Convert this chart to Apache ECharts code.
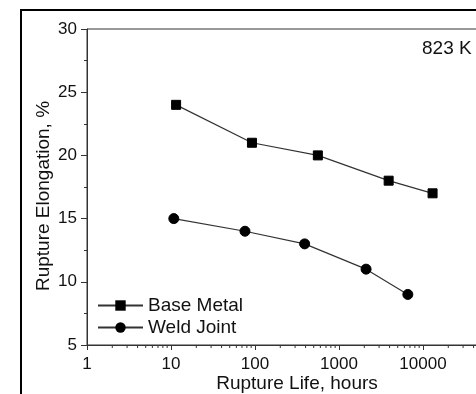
<!DOCTYPE html>
<html><head><meta charset="utf-8">
<script src="https://cdn.jsdelivr.net/npm/echarts@6/dist/echarts.min.js"></script>
<style>html,body{margin:0;padding:0;background:#fff}#c{width:476px;height:394px}</style>
</head><body><div id="c"></div>
<script>
const baseLife = [11.5, 92, 560, 3900, 13000];
const baseElong = [24, 21, 20, 18, 17];
const weldLife = [10.8, 76, 390, 2100, 6600];
const weldElong = [15, 14, 13, 11, 9];
const yTicks = [5, 10, 15, 20, 25, 30];
const xMinorMultipliers = [2, 3, 4, 5, 6, 7, 8, 9];
const xDecades = [1, 10, 100, 1000, 10000];

const FONT = 'Liberation Sans';
const minorTickVals = [];
xDecades.forEach(d => xMinorMultipliers.forEach(m => minorTickVals.push([m * d, 5])));

const chart = echarts.init(document.getElementById('c'), null, {renderer: 'canvas'});
chart.setOption({
  animation: false,
  backgroundColor: '#fff',
  textStyle: {fontFamily: FONT},
  graphic: [
    {type: 'rect', shape: {x: 21, y: 10, width: 600, height: 600}, style: {fill: 'none', stroke: '#000', lineWidth: 2}, z: -1},
    {type: 'text', left: 422, top: 39, style: {text: '823 K', font: '19px "Liberation Sans"', fill: '#111'}}
  ],
  grid: {left: 87, top: 29, right: -31, bottom: 49, show: true, borderColor: '#333', borderWidth: 1, outerBoundsMode: 'none'},
  legend: {
    orient: 'vertical', left: 92, top: 291, itemWidth: 45, itemHeight: 13, itemGap: 3,
    textStyle: {fontFamily: FONT, fontSize: 19, color: '#111'},
    data: ['Base Metal', 'Weld Joint']
  },
  xAxis: {
    type: 'log', logBase: 10, min: 1, max: 100000,
    name: 'Rupture Life, hours', nameLocation: 'middle', nameGap: 29, nameMoveOverlap: false,
    nameTextStyle: {fontFamily: FONT, fontSize: 19, color: '#111'},
    axisLine: {lineStyle: {color: '#333', width: 1}},
    axisTick: {show: true, inside: false, length: 5, lineStyle: {color: '#333'}},
    axisLabel: {fontFamily: FONT, fontSize: 17, color: '#111', margin: 11, formatter: v => String(v)},
    splitLine: {show: false}, minorTick: {show: false}
  },
  yAxis: {
    type: 'value', min: 5, max: 30, interval: 5,
    name: 'Rupture Elongation, %', nameLocation: 'middle', nameGap: 34, nameMoveOverlap: false,
    nameTextStyle: {fontFamily: FONT, fontSize: 19, color: '#111', padding: [0, 18, 0, 0]},
    axisLine: {show: true, lineStyle: {color: '#333', width: 1}},
    axisTick: {show: true, inside: false, length: 6, lineStyle: {color: '#333'}},
    minorTick: {show: true, splitNumber: 2, length: 3, lineStyle: {color: '#333'}},
    axisLabel: {fontFamily: FONT, fontSize: 17, color: '#111', margin: 10,
      formatter: v => yTicks.includes(v) ? String(v) : ''},
    splitLine: {show: false}
  },
  series: [
    {
      name: 'Base Metal', type: 'line', data: baseLife.map((x, i) => [x, baseElong[i]]),
      symbol: 'rect', symbolSize: 9,
      lineStyle: {color: '#333', width: 1.2}, itemStyle: {color: '#000', borderColor: '#000'}
    },
    {
      name: 'Weld Joint', type: 'line', data: weldLife.map((x, i) => [x, weldElong[i]]),
      symbol: 'circle', symbolSize: 10,
      lineStyle: {color: '#333', width: 1.2}, itemStyle: {color: '#000', borderColor: '#000'}
    },
    {
      name: 'minorTicks', type: 'custom', clip: false, silent: true, legendHoverLink: false,
      data: minorTickVals,
      renderItem: (params, api) => {
        const p = api.coord([api.value(0), api.value(1)]);
        return {type: 'line', shape: {x1: p[0], y1: p[1], x2: p[0], y2: p[1] + 3}, style: {stroke: '#333', lineWidth: 1}};
      }
    }
  ]
});
</script></body></html>
